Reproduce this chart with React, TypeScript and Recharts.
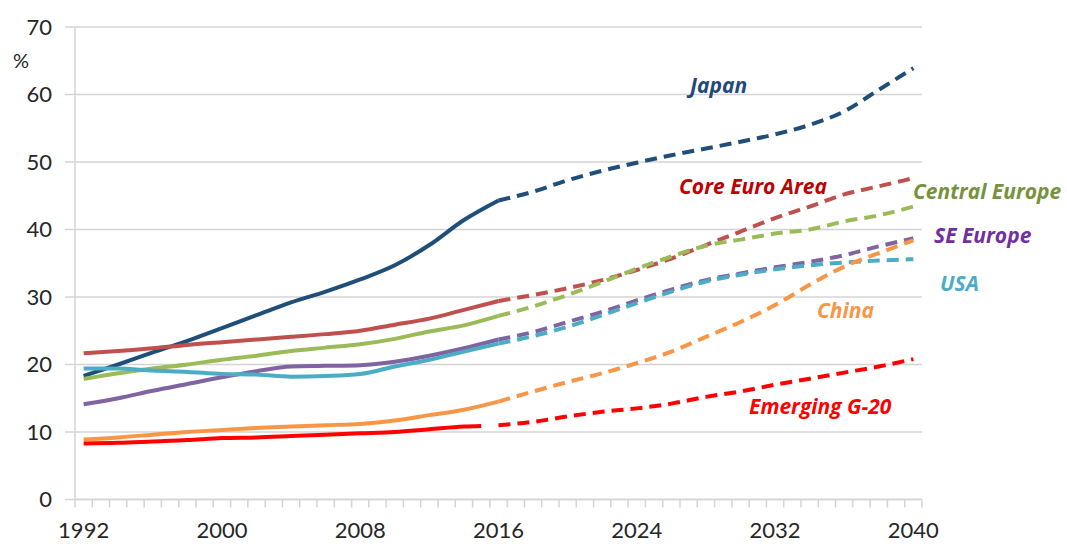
import React from "react";
import { LineChart, Line, XAxis, YAxis, CartesianGrid } from "recharts";

// ---- Data ----
const histYears = [1992, 1994, 1996, 1998, 2000, 2002, 2004, 2006, 2008, 2010, 2012, 2014, 2016];
const projYears = [2016, 2018, 2020, 2022, 2024, 2026, 2028, 2030, 2032, 2034, 2036, 2038, 2040];
const g20HistYears = [1992, 1994, 1996, 1998, 2000, 2002, 2004, 2006, 2008, 2010, 2012, 2014, 2015];

const japanHist = [18.3, 20.0, 21.8, 23.5, 25.4, 27.3, 29.2, 30.8, 32.6, 34.7, 37.7, 41.4, 44.3];
const japanProj = [44.3, 45.6, 47.3, 48.7, 49.9, 51.0, 52.0, 53.0, 54.1, 55.5, 57.5, 60.7, 63.9];

const coreEuroHist = [21.65, 22.0, 22.4, 22.9, 23.3, 23.7, 24.1, 24.5, 25.0, 25.9, 26.8, 28.1, 29.4];
const coreEuroProj = [29.4, 30.3, 31.3, 32.5, 34.0, 35.7, 37.7, 39.7, 41.7, 43.4, 45.2, 46.4, 47.6];

const centralEuHist = [17.85, 18.7, 19.4, 20.0, 20.7, 21.3, 22.0, 22.5, 23.0, 23.8, 24.9, 25.8, 27.2];
const centralEuProj = [27.2, 28.6, 30.3, 32.2, 34.2, 36.0, 37.6, 38.5, 39.4, 40.0, 41.2, 42.1, 43.4];

const seEuHist = [14.1, 15.0, 16.1, 17.1, 18.1, 19.0, 19.7, 19.8, 19.9, 20.4, 21.3, 22.4, 23.7];
const seEuProj = [23.7, 24.8, 26.3, 27.8, 29.5, 31.1, 32.5, 33.5, 34.4, 35.2, 36.2, 37.5, 38.7];

const usaHist = [19.4, 19.4, 19.1, 18.9, 18.6, 18.5, 18.2, 18.3, 18.6, 19.7, 20.7, 21.9, 23.1];
const usaProj = [23.1, 24.2, 25.6, 27.3, 29.1, 30.8, 32.3, 33.3, 34.1, 34.7, 35.1, 35.4, 35.6];

const chinaHist = [8.9, 9.2, 9.6, 10.0, 10.3, 10.6, 10.8, 11.0, 11.2, 11.7, 12.5, 13.3, 14.5];
const chinaProj = [14.5, 16.0, 17.4, 18.7, 20.2, 21.9, 24.1, 26.3, 28.8, 31.8, 34.5, 36.5, 38.4];

const g20Hist = [8.3, 8.4, 8.6, 8.8, 9.1, 9.2, 9.4, 9.6, 9.8, 10.0, 10.4, 10.8, 10.9];
const g20Proj = [11.0, 11.5, 12.3, 13.0, 13.5, 14.2, 15.2, 16.0, 17.0, 17.9, 18.8, 19.7, 20.8];

const xLabelYears = [1992, 2000, 2008, 2016, 2024, 2032, 2040];
const yTicks = [0, 10, 20, 30, 40, 50, 60, 70];
const firstYear = 1992;
const lastYear = 2040;

// ---- Helpers ----
const toRows = (years: number[], vals: number[]) => years.map((year, i) => ({ year, v: vals[i] }));

const boundaryTicks: number[] = [];
for (let y = firstYear; y <= lastYear + 1; y++) boundaryTicks.push(y - 0.5);
const allXTicks = [...boundaryTicks, ...xLabelYears].sort((a, b) => a - b);

const series = [
  { name: "Japan", color: "#1F4E79", hist: toRows(histYears, japanHist), proj: toRows(projYears, japanProj) },
  { name: "Core Euro Area", color: "#C0504D", hist: toRows(histYears, coreEuroHist), proj: toRows(projYears, coreEuroProj) },
  { name: "Central Europe", color: "#9BBB59", hist: toRows(histYears, centralEuHist), proj: toRows(projYears, centralEuProj) },
  { name: "SE Europe", color: "#8064A2", hist: toRows(histYears, seEuHist), proj: toRows(projYears, seEuProj) },
  { name: "USA", color: "#4BACC6", hist: toRows(histYears, usaHist), proj: toRows(projYears, usaProj) },
  { name: "China", color: "#F79646", hist: toRows(histYears, chinaHist), proj: toRows(projYears, chinaProj) },
  { name: "Emerging G-20", color: "#FF0000", hist: toRows(g20HistYears, g20Hist), proj: toRows(projYears, g20Proj) },
];

const labels = [
  { text: "Japan", x: 690, y: 93, color: "#1F497D" },
  { text: "Core Euro Area", x: 679, y: 194, color: "#C00000" },
  { text: "Central Europe", x: 913, y: 199, color: "#76923C" },
  { text: "SE Europe", x: 934, y: 243, color: "#7030A0" },
  { text: "USA", x: 940, y: 291, color: "#4BACC6" },
  { text: "China", x: 817, y: 318, color: "#F79646" },
  { text: "Emerging G-20", x: 749, y: 414, color: "#FF0000" },
];

const FONT = "Lato, 'Open Sans', sans-serif";
const LABEL_FONT = "'Open Sans', Lato, sans-serif";
const GRID = "#d4d4d4";
const TEXT = "#262626";

const XTick = (props: any) => {
  const { x, y, payload } = props;
  const v = payload.value as number;
  if (Math.abs(v - Math.round(v)) > 0.01) {
    return <line x1={x} y1={y} x2={x} y2={y + 8} stroke={GRID} strokeWidth={1.5} />;
  }
  return (
    <text x={x} y={y + 38} textAnchor="middle" fontSize={22} fill={TEXT} fontFamily={FONT}>
      {v}
    </text>
  );
};

export default function App() {
  return (
    <div style={{ position: "absolute", left: 0, top: 0, width: 1067, height: 544, background: "#fff" }}>
      <LineChart width={1067} height={544} margin={{ top: 27, right: 145, bottom: 0, left: 10 }}>
        <CartesianGrid vertical={false} stroke={GRID} strokeWidth={1.5} />
        <XAxis
          type="number"
          dataKey="year"
          domain={[firstYear - 0.5, lastYear + 0.5]}
          ticks={allXTicks}
          interval={0}
          allowDecimals
          tickSize={0}
          tickMargin={0}
          tickLine={false}
          axisLine={{ stroke: GRID, strokeWidth: 1.5 }}
          tick={<XTick />}
          height={44.5}
        />
        <YAxis
          type="number"
          domain={[0, 70]}
          ticks={yTicks}
          interval={0}
          width={65}
          tickSize={10}
          tickMargin={13}
          tickLine={{ stroke: GRID, strokeWidth: 1.5 }}
          axisLine={{ stroke: GRID, strokeWidth: 1.5 }}
          tick={{ fontSize: 22, fill: TEXT, fontFamily: FONT }}
        />
        {series.map((s) => (
          <Line
            key={s.name + "-hist"}
            data={s.hist}
            dataKey="v"
            type="monotone"
            stroke={s.color}
            strokeWidth={4}
            dot={false}
            activeDot={false}
            isAnimationActive={false}
          />
        ))}
        {series.map((s) => (
          <Line
            key={s.name + "-proj"}
            data={s.proj}
            dataKey="v"
            type="monotone"
            stroke={s.color}
            strokeWidth={4}
            strokeDasharray="12 7"
            dot={false}
            activeDot={false}
            isAnimationActive={false}
          />
        ))}
      </LineChart>
      <svg
        width={1067}
        height={544}
        style={{ position: "absolute", left: 0, top: 0, pointerEvents: "none" }}
      >
        <text x={13} y={68} fontSize={20} fill={TEXT} fontFamily={FONT}>
          %
        </text>
        {labels.map((l) => (
          <text
            key={l.text}
            x={l.x}
            y={l.y}
            fontSize={21}
            fontWeight="bold"
            fontStyle="italic"
            fill={l.color}
            fontFamily={LABEL_FONT}
          >
            {l.text}
          </text>
        ))}
      </svg>
    </div>
  );
}
